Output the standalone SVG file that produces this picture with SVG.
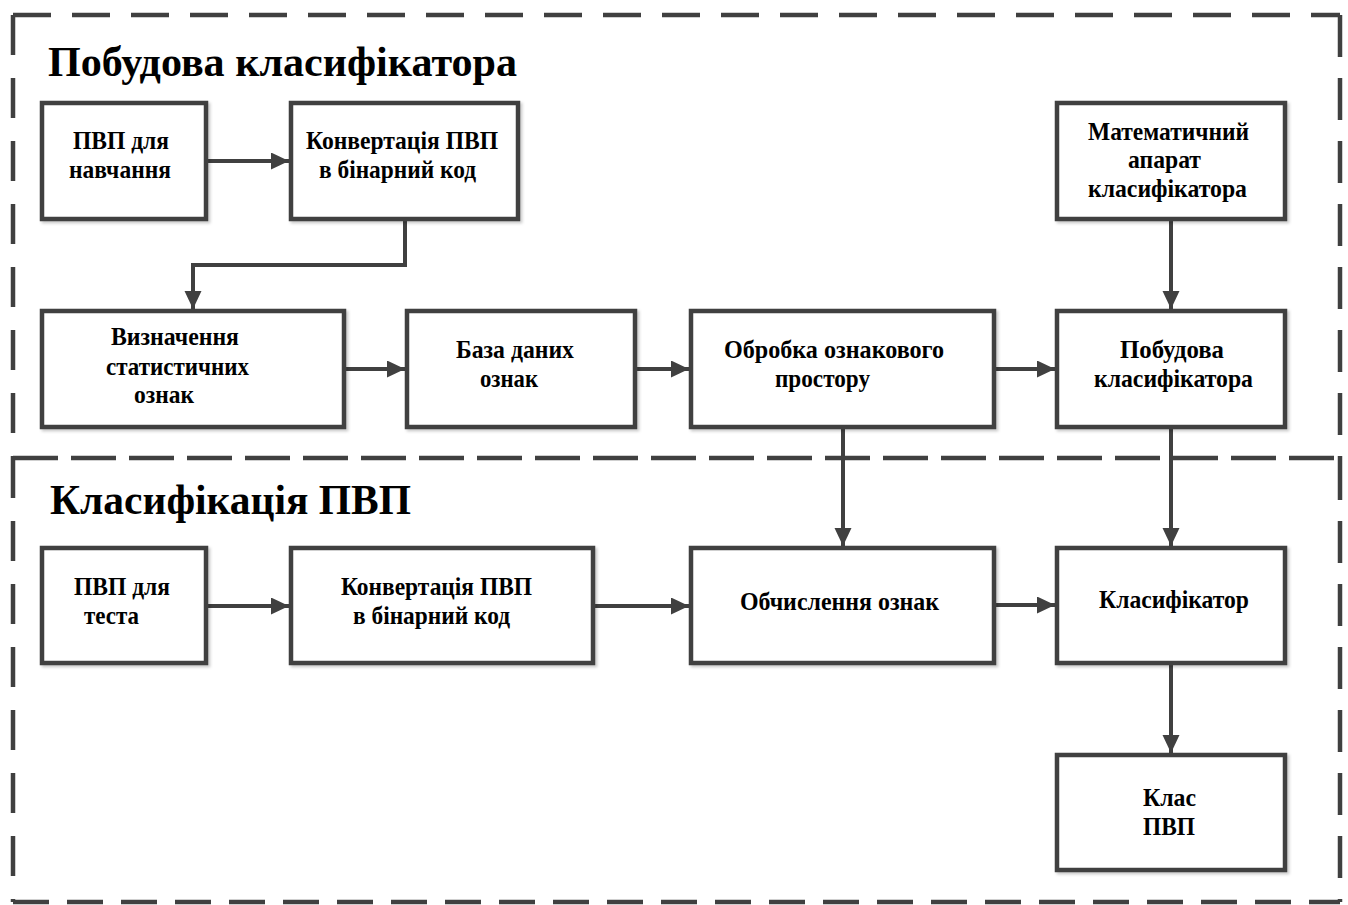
<svg xmlns="http://www.w3.org/2000/svg" width="1348" height="905" viewBox="0 0 1348 905">
  <style>
    .frame { fill: none; stroke: #404040; stroke-width: 4.5; }
    .box { fill: #ffffff; stroke: #404040; stroke-width: 4.5; filter: url(#shadow); }
    .wire { fill: none; stroke: #404040; stroke-width: 4; marker-end: url(#arrow); }
    .title { font-family: "Liberation Serif", "Times New Roman", serif; font-weight: bold; font-size: 42px; fill: #000; }
    .label { font-family: "Liberation Serif", "Times New Roman", serif; font-weight: bold; font-size: 26px; fill: #000; }
  </style>
  <defs>
    <filter id="shadow" x="-10%" y="-10%" width="130%" height="130%">
      <feDropShadow dx="2" dy="2" stdDeviation="1.5" flood-color="#000" flood-opacity="0.22"/>
    </filter>
    <marker id="arrow" markerUnits="userSpaceOnUse" markerWidth="19" markerHeight="18" refX="18" refY="8.5" orient="auto">
      <path d="M0,0 L18,8.5 L0,17 Z" fill="#404040"/>
    </marker>
  </defs>

  <rect width="1348" height="905" fill="#ffffff"/>

  <!-- section frames -->
  <g id="frames">
    <path class="frame" d="M13,15 H1340" stroke-dasharray="38 21"/>
    <path class="frame" d="M13,458 H1340" stroke-dasharray="45 13"/>
    <path class="frame" d="M13,902 H1340" stroke-dasharray="36 18"/>
    <path class="frame" d="M13,15 V458" stroke-dasharray="40 23"/>
    <path class="frame" d="M13,458 V902" stroke-dasharray="40 23"/>
    <path class="frame" d="M1340,15 V458" stroke-dasharray="42 21"/>
    <path class="frame" d="M1340,458 V902" stroke-dasharray="42 21"/>
  </g>

  <text class="title" x="48" y="76" textLength="469" lengthAdjust="spacingAndGlyphs">Побудова класифікатора</text>
  <text class="title" x="50" y="514" font-size="41" textLength="361" lengthAdjust="spacingAndGlyphs">Класифікація ПВП</text>

  <!-- connectors -->
  <g id="connectors">
    <path class="wire" d="M208,161 H289"/>
    <path class="wire" d="M405,221 V265 H193 V309"/>
    <path class="wire" d="M1171,221 V309"/>
    <path class="wire" d="M346,369 H405"/>
    <path class="wire" d="M637,369 H689"/>
    <path class="wire" d="M996,369 H1055"/>
    <path class="wire" d="M843,429 V546"/>
    <path class="wire" d="M1171,429 V546"/>
    <path class="wire" d="M208,606 H289"/>
    <path class="wire" d="M595,606 H689"/>
    <path class="wire" d="M996,605 H1055"/>
    <path class="wire" d="M1171,665 V753"/>
  </g>

  <!-- training branch -->
  <g id="train-input">
    <rect class="box" x="42" y="103" width="164" height="116"/>
    <text class="label" x="73" y="149" textLength="96" lengthAdjust="spacingAndGlyphs">ПВП для</text>
    <text class="label" x="69" y="178" textLength="102" lengthAdjust="spacingAndGlyphs">навчання</text>
  </g>
  <g id="train-convert">
    <rect class="box" x="291" y="103" width="227" height="116"/>
    <text class="label" x="306" y="149" textLength="192" lengthAdjust="spacingAndGlyphs">Конвертація ПВП</text>
    <text class="label" x="319" y="178" textLength="157" lengthAdjust="spacingAndGlyphs">в бінарний код</text>
  </g>
  <g id="math-apparatus">
    <rect class="box" x="1057" y="103" width="228" height="116"/>
    <text class="label" x="1088" y="140" textLength="161" lengthAdjust="spacingAndGlyphs">Математичний</text>
    <text class="label" x="1128" y="168" textLength="73" lengthAdjust="spacingAndGlyphs">апарат</text>
    <text class="label" x="1088" y="197" textLength="159" lengthAdjust="spacingAndGlyphs">класифікатора</text>
  </g>
  <g id="stat-features">
    <rect class="box" x="42" y="311" width="302" height="116"/>
    <text class="label" x="111" y="345" textLength="128" lengthAdjust="spacingAndGlyphs">Визначення</text>
    <text class="label" x="106" y="375" textLength="143" lengthAdjust="spacingAndGlyphs">статистичних</text>
    <text class="label" x="134" y="403" textLength="60" lengthAdjust="spacingAndGlyphs">ознак</text>
  </g>
  <g id="feature-db">
    <rect class="box" x="407" y="311" width="228" height="116"/>
    <text class="label" x="456" y="358" textLength="118" lengthAdjust="spacingAndGlyphs">База даних</text>
    <text class="label" x="480" y="387" textLength="58" lengthAdjust="spacingAndGlyphs">ознак</text>
  </g>
  <g id="feature-space">
    <rect class="box" x="691" y="311" width="303" height="116"/>
    <text class="label" x="724" y="358" textLength="220" lengthAdjust="spacingAndGlyphs">Обробка ознакового</text>
    <text class="label" x="775" y="387" textLength="95" lengthAdjust="spacingAndGlyphs">простору</text>
  </g>
  <g id="build-classifier">
    <rect class="box" x="1057" y="311" width="228" height="116"/>
    <text class="label" x="1120" y="358" textLength="104" lengthAdjust="spacingAndGlyphs">Побудова</text>
    <text class="label" x="1094" y="387" textLength="159" lengthAdjust="spacingAndGlyphs">класифікатора</text>
  </g>

  <!-- classification branch -->
  <g id="test-input">
    <rect class="box" x="42" y="548" width="164" height="115"/>
    <text class="label" x="74" y="595" textLength="96" lengthAdjust="spacingAndGlyphs">ПВП для</text>
    <text class="label" x="84" y="624" textLength="55" lengthAdjust="spacingAndGlyphs">теста</text>
  </g>
  <g id="test-convert">
    <rect class="box" x="291" y="548" width="302" height="115"/>
    <text class="label" x="341" y="595" textLength="191" lengthAdjust="spacingAndGlyphs">Конвертація ПВП</text>
    <text class="label" x="353" y="624" textLength="157" lengthAdjust="spacingAndGlyphs">в бінарний код</text>
  </g>
  <g id="feature-calc">
    <rect class="box" x="691" y="548" width="303" height="115"/>
    <text class="label" x="740" y="610" textLength="199" lengthAdjust="spacingAndGlyphs">Обчислення ознак</text>
  </g>
  <g id="classifier">
    <rect class="box" x="1057" y="548" width="228" height="115"/>
    <text class="label" x="1099" y="608" textLength="150" lengthAdjust="spacingAndGlyphs">Класифікатор</text>
  </g>
  <g id="result-class">
    <rect class="box" x="1057" y="755" width="228" height="115"/>
    <text class="label" x="1143" y="806" textLength="53" lengthAdjust="spacingAndGlyphs">Клас</text>
    <text class="label" x="1143" y="835" textLength="52" lengthAdjust="spacingAndGlyphs">ПВП</text>
  </g>
</svg>
